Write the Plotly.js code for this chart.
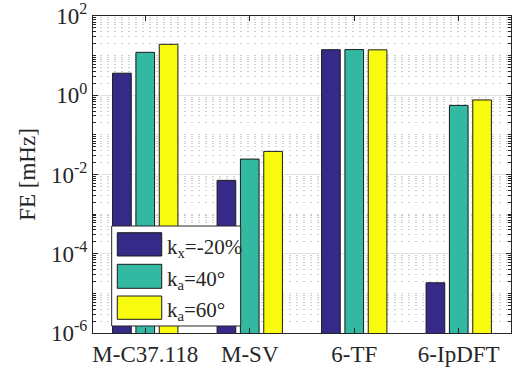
<!DOCTYPE html>
<html>
<head>
<meta charset="utf-8">
<script src="https://cdn.plot.ly/plotly-3.0.1.min.js"></script>
<style>html,body{margin:0;padding:0;background:#fff;}#chart{width:514px;height:371px;}</style>
</head>
<body>
<div id="chart"></div>
<script>
const categories = ['M-C37.118', 'M-SV', '6-TF', '6-IpDFT'];
const seriesNames = ['k<sub>x</sub>=-20%', 'k<sub>a</sub>=40°', 'k<sub>a</sub>=60°'];
const kx20 = [3.6, 0.0071, 14.1, 1.85e-5];
const ka40 = [12.1, 0.0245, 14.2, 0.555];
const ka60 = [19.3, 0.0383, 14.0, 0.76];
const yTickVals = [1e-6, 1e-4, 1e-2, 1, 100];
const yTickText = ['10<sup>-6</sup>', '10<sup>-4</sup>', '10<sup>-2</sup>', '10<sup>0</sup>', '10<sup>2</sup>'];
const colors = ['rgb(53,42,135)', 'rgb(51,184,161)', 'rgb(249,251,14)'];

const FONT = '"Times New Roman", "Liberation Serif", Times, serif';
const TXT = '#262626';
const allSeries = [kx20, ka40, ka60];

const traces = allSeries.map((vals, i) => ({
  type: 'bar',
  x: categories,
  y: vals,
  name: seriesNames[i],
  marker: {color: colors[i], line: {color: '#1a1a1a', width: 1}},
  showlegend: false,
  hoverinfo: 'x+y'
}));

// custom legend (large patches like the reference)
const legBox = {x0: 0.0447, x1: 0.3533, y0: 0.0221, y1: 0.3375};
const patchX = [0.0581, 0.1644];
const patchY = [[0.2429, 0.3164], [0.1410, 0.2167], [0.0432, 0.1167]];
const shapes = [{
  type: 'rect', xref: 'paper', yref: 'paper', layer: 'above',
  x0: legBox.x0, x1: legBox.x1, y0: legBox.y0, y1: legBox.y1,
  fillcolor: '#ffffff', line: {color: '#262626', width: 1}
}];
const annotations = [];
seriesNames.forEach((n, i) => {
  shapes.push({
    type: 'rect', xref: 'paper', yref: 'paper', layer: 'above',
    x0: patchX[0], x1: patchX[1], y0: patchY[i][0], y1: patchY[i][1],
    fillcolor: colors[i], line: {color: '#1a1a1a', width: 1}
  });
  annotations.push({
    xref: 'paper', yref: 'paper', x: 0.172, y: (patchY[i][0] + patchY[i][1]) / 2 - 0.012,
    xanchor: 'left', yanchor: 'middle', showarrow: false,
    text: n, font: {family: FONT, size: 21, color: TXT}
  });
});

const layout = {
  width: 514, height: 371,
  margin: {l: 93, r: 3, t: 16, b: 38},
  paper_bgcolor: '#ffffff', plot_bgcolor: '#ffffff',
  font: {family: FONT, color: TXT, size: 23},
  barmode: 'group',
  bargap: 0.33,
  bargroupgap: 0.2,
  xaxis: {
    type: 'category',
    range: [-0.5, 3.5],
    showline: true, linecolor: '#262626', linewidth: 1, mirror: 'ticks',
    ticks: 'inside', ticklen: 5, tickcolor: '#262626',
    showgrid: false, zeroline: false,
    tickfont: {family: FONT, size: 23, color: TXT}
  },
  yaxis: {
    type: 'log',
    range: [-6, 2],
    tickmode: 'array',
    tickvals: yTickVals,
    ticktext: yTickText,
    showline: true, linecolor: '#262626', linewidth: 1, mirror: 'ticks',
    ticks: 'inside', ticklen: 5, tickcolor: '#262626',
    showgrid: true, gridcolor: '#e3e3e3', gridwidth: 1,
    zeroline: false,
    tickfont: {family: FONT, size: 23, color: TXT},
    minor: {dtick: 'D1', showgrid: true, gridcolor: '#cfcfcf', griddash: '2px,5px', gridwidth: 1,
            ticks: 'inside', ticklen: 3, tickcolor: '#262626'},
    title: {text: 'FE [mHz]', font: {family: FONT, size: 23, color: TXT}, standoff: 8}
  },
  shapes: shapes,
  annotations: annotations
};

Plotly.newPlot('chart', traces, layout, {displayModeBar: false, staticPlot: true});
</script>
</body>
</html>
